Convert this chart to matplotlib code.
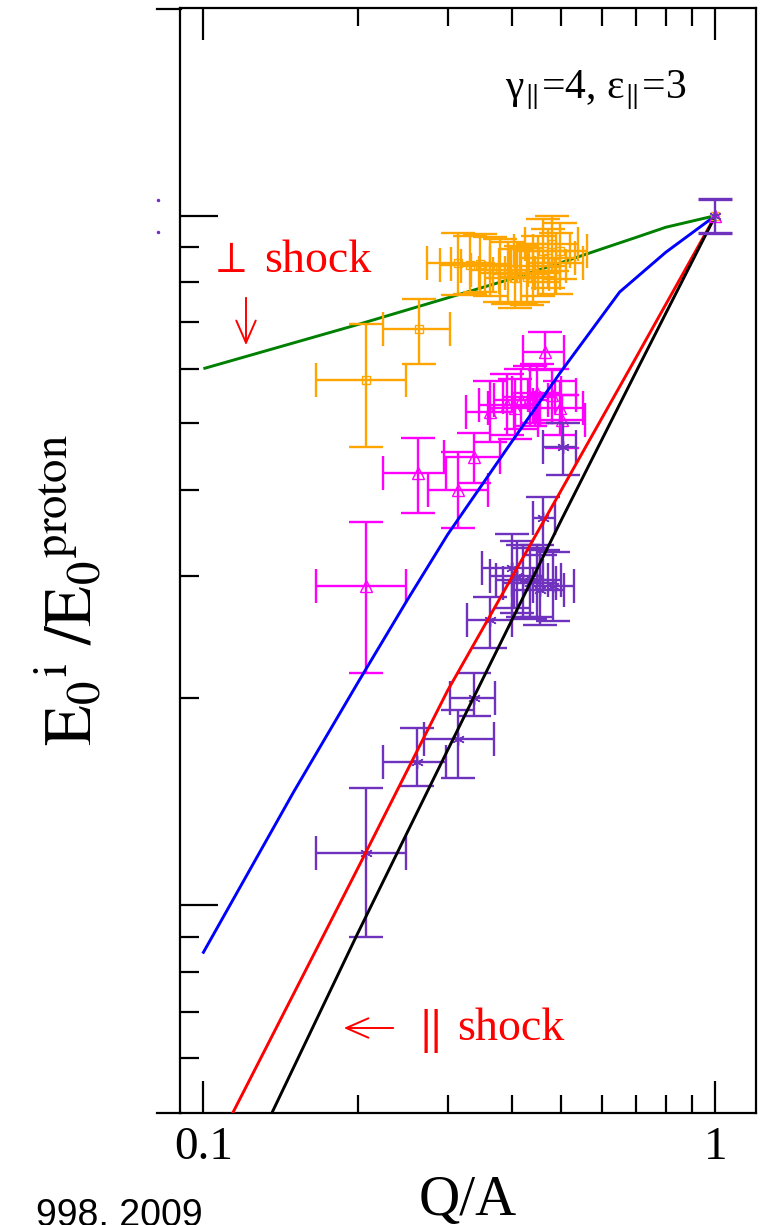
import matplotlib
matplotlib.use('Agg')
import matplotlib.pyplot as plt
from matplotlib.ticker import FixedLocator, NullFormatter, FixedFormatter
from matplotlib.lines import Line2D
import numpy as np

plt.rcParams['font.family'] = ['Liberation Serif', 'DejaVu Serif']
plt.rcParams['mathtext.fontset'] = 'stix'

W, H, DPI = 762, 1225, 100

# ---------------- model curves ----------------
green_q = [0.1, 0.2, 0.3, 0.4, 0.5, 0.6, 0.7, 0.8, 1.0]
green_y = [0.60, 0.695, 0.76, 0.81, 0.855, 0.895, 0.93, 0.962, 1.0]

blue_q = [0.1, 0.15, 0.2, 0.25, 0.3, 0.4, 0.5, 0.6, 0.65, 0.8, 1.0]
blue_y = [0.0855, 0.146, 0.21, 0.277, 0.345, 0.47, 0.595, 0.715, 0.775, 0.885, 1.0]

red_q = [0.1, 0.2, 0.3, 0.5, 0.7, 1.0]
red_y = [0.0413, 0.113, 0.205, 0.40, 0.623, 1.0]

black_q = [0.1, 0.2, 0.3, 0.5, 0.7, 1.0]
black_y = [0.031, 0.091, 0.168, 0.362, 0.594, 1.0]

# ---------------- orange (squares) ----------------
or_q   = [0.208, 0.264, 0.314, 0.331, 0.347, 0.362, 0.379, 0.393, 0.406, 0.417, 0.428, 0.440, 0.450, 0.460, 0.470, 0.479, 0.488, 0.497]
or_y   = [0.578, 0.684, 0.855, 0.849, 0.852, 0.844, 0.833, 0.827, 0.811, 0.824, 0.816, 0.827, 0.846, 0.890, 0.867, 0.911, 0.855, 0.890]
or_qlo = [0.166, 0.224, 0.273, 0.290, 0.305, 0.318, 0.333, 0.345, 0.355, 0.368, 0.378, 0.388, 0.398, 0.405, 0.415, 0.425, 0.432, 0.440]
or_qhi = [0.249, 0.303, 0.362, 0.378, 0.395, 0.410, 0.430, 0.445, 0.460, 0.472, 0.485, 0.498, 0.510, 0.520, 0.532, 0.540, 0.550, 0.560]
or_ylo = [0.462, 0.609, 0.766, 0.770, 0.775, 0.765, 0.750, 0.745, 0.735, 0.748, 0.742, 0.750, 0.765, 0.800, 0.785, 0.830, 0.770, 0.810]
or_yhi = [0.697, 0.758, 0.945, 0.935, 0.940, 0.930, 0.925, 0.915, 0.895, 0.905, 0.898, 0.910, 0.935, 0.990, 0.955, 1.000, 0.945, 0.975]

# ---------------- magenta (triangles) ----------------
mg_q   = [0.208, 0.263, 0.314, 0.337, 0.362, 0.391, 0.406, 0.418, 0.434, 0.448, 0.464, 0.479, 0.497, 0.501]
mg_y   = [0.290, 0.423, 0.400, 0.447, 0.520, 0.531, 0.527, 0.540, 0.545, 0.554, 0.634, 0.549, 0.526, 0.505]
mg_qlo = [0.166, 0.224, 0.275, 0.295, 0.325, 0.345, 0.360, 0.370, 0.385, 0.400, 0.420, 0.430, 0.445, 0.450]
mg_qhi = [0.249, 0.298, 0.360, 0.380, 0.405, 0.440, 0.455, 0.470, 0.485, 0.500, 0.505, 0.535, 0.550, 0.555]
mg_ylo = [0.217, 0.370, 0.352, 0.410, 0.470, 0.480, 0.475, 0.490, 0.495, 0.500, 0.597, 0.500, 0.480, 0.460]
mg_yhi = [0.360, 0.476, 0.455, 0.484, 0.575, 0.590, 0.580, 0.600, 0.605, 0.610, 0.677, 0.600, 0.575, 0.550]

# ---------------- purple (asterisks) ----------------
pu_q   = [0.208, 0.261, 0.314, 0.337, 0.362, 0.400, 0.410, 0.420, 0.434, 0.448, 0.454, 0.481, 0.460, 0.503]
pu_y   = [0.119, 0.1616, 0.174, 0.200, 0.259, 0.308, 0.300, 0.296, 0.293, 0.296, 0.287, 0.290, 0.364, 0.462]
pu_qlo = [0.166, 0.224, 0.270, 0.303, 0.327, 0.350, 0.362, 0.372, 0.385, 0.400, 0.405, 0.440, 0.440, 0.460]
pu_qhi = [0.249, 0.298, 0.370, 0.371, 0.400, 0.455, 0.460, 0.470, 0.488, 0.500, 0.505, 0.530, 0.486, 0.535]
pu_ylo = [0.090, 0.149, 0.153, 0.188, 0.236, 0.270, 0.265, 0.262, 0.260, 0.262, 0.255, 0.258, 0.327, 0.420]
pu_yhi = [0.148, 0.181, 0.192, 0.217, 0.280, 0.345, 0.338, 0.333, 0.330, 0.333, 0.322, 0.325, 0.391, 0.500]

# reference point at Q/A = 1
ref_q = [1.0]
ref_y = [1.0]
ref_ylo = [0.945]
ref_yhi = [1.058]

x_major = [0.1, 1.0]
x_major_labels = ['0.1', '1']
x_minor = [0.2, 0.3, 0.4, 0.5, 0.6, 0.7, 0.8, 0.9]
y_major = [0.1, 1.0]
y_minor = [0.06, 0.07, 0.08, 0.09, 0.2, 0.3, 0.4, 0.5, 0.6, 0.7, 0.8, 0.9]

C_OR = '#FFA500'
C_MG = '#FF00FF'
C_PU = '#6E32BE'
C_GR = '#008000'

fig = plt.figure(figsize=(W / DPI, H / DPI), dpi=DPI)
fig.patch.set_facecolor('white')
ax = fig.add_axes([180 / W, 1 - 1113 / H, 576 / W, 1105 / H])
ax.set_xscale('log')
ax.set_yscale('log')
ax.set_xlim(0.09, 1.2)
ax.set_ylim(0.05, 2.0)

lw = 2.1
ax.plot(green_q, green_y, color=C_GR, lw=lw, zorder=1.5, solid_capstyle='butt')


def eb(q, y, qlo, qhi, ylo, yhi, color, marker, ms, z):
    q = np.asarray(q); y = np.asarray(y)
    xe = [q - np.asarray(qlo), np.asarray(qhi) - q]
    ye = [y - np.asarray(ylo), np.asarray(yhi) - y]
    ax.errorbar(q, y, xerr=xe, yerr=ye, fmt='none', ecolor=color,
                elinewidth=1.7, capsize=12.5, capthick=1.7, zorder=z)
    ax.plot(q, y, ls='none', marker=marker, ms=ms, mfc='none', mec=color,
            mew=1.0, zorder=z + 0.05)


eb(or_q, or_y, or_qlo, or_qhi, or_ylo, or_yhi, C_OR, 's', 6, 2)
eb(mg_q, mg_y, mg_qlo, mg_qhi, mg_ylo, mg_yhi, C_MG, '^', 8, 2.1)
eb(pu_q, pu_y, pu_qlo, pu_qhi, pu_ylo, pu_yhi, C_PU, (6, 2, 0), 9, 2.2)

ax.plot(blue_q, blue_y, color='blue', lw=lw, zorder=3)
ax.plot(red_q, red_y, color='red', lw=lw, zorder=3)
ax.plot(black_q, black_y, color='black', lw=lw, zorder=3)

ax.plot(ref_q, ref_y, ls='none', marker='s', ms=6, mfc='none', mec=C_OR, zorder=4)
ax.plot(ref_q, ref_y, ls='none', marker='^', ms=8, mfc='none', mec=C_MG, zorder=4)
r = np.asarray(ref_y)
ax.errorbar(ref_q, ref_y, yerr=[r - np.asarray(ref_ylo), np.asarray(ref_yhi) - r],
            fmt='none', ecolor=C_PU, elinewidth=1.7, capsize=12.5, capthick=2.4, zorder=4.1)
ax.plot(ref_q, ref_y, ls='none', marker=(6, 2, 0), ms=9, mec=C_PU, zorder=4.2)

# ticks
ax.xaxis.set_major_locator(FixedLocator(x_major))
ax.xaxis.set_minor_locator(FixedLocator(x_minor))
ax.xaxis.set_major_formatter(FixedFormatter(x_major_labels))
ax.xaxis.set_minor_formatter(NullFormatter())
ax.yaxis.set_major_locator(FixedLocator(y_major))
ax.yaxis.set_minor_locator(FixedLocator(y_minor))
ax.yaxis.set_major_formatter(NullFormatter())
ax.yaxis.set_minor_formatter(NullFormatter())
ax.tick_params(which='both', direction='in', top=True, right=False, width=1.6,
               color='black')
ax.tick_params(axis='x', which='major', length=23, labelsize=34, pad=10)
ax.tick_params(axis='x', which='minor', length=13)
ax.tick_params(axis='y', which='major', length=27)
ax.tick_params(axis='y', which='minor', length=14)
for s in ax.spines.values():
    s.set_linewidth(1.6)

ax.set_xlabel('Q/A', fontsize=41, labelpad=4)

# frame line extensions to the left (top & bottom)
for py in (8.5, 1113):
    fig.add_artist(Line2D([157 / W, 181 / W], [1 - py / H, 1 - py / H],
                          color='black', lw=1.6))
# tiny purple specks at the left edge
for py in (200, 232):
    fig.add_artist(Line2D([158 / W], [1 - py / H], marker='o', ms=1.5,
                          color=C_PU, ls='none'))

# y label
fig.text(70 / W, 1 - 590 / H,
         r'$\mathrm{E}_0{}^{\mathrm{i}}\ /\mathrm{E}_0{}^{\mathrm{proton}}$',
         rotation=90, ha='center', va='center', fontsize=48)

# annotations
fig.text(505 / W, 1 - 98 / H, r'γ${}_{\Vert}$=4, ε${}_{\Vert}$=3',
         fontsize=30, ha='left', va='baseline')
fig.text(209 / W, 1 - 272 / H, r'$\perp$', color='red', fontsize=32,
         ha='left', va='baseline')
fig.text(264 / W, 1 - 272 / H, 'shock', color='red', fontsize=33,
         ha='left', va='baseline')
fig.text(417 / W, 1 - 1043 / H, r'$\Vert$', color='red', fontsize=36,
         ha='left', va='baseline')
fig.text(457 / W, 1 - 1040 / H, 'shock', color='red', fontsize=33,
         ha='left', va='baseline')

fig.add_artist(matplotlib.patches.FancyArrowPatch(
    (246 / W, 1 - 295 / H), (246 / W, 1 - 348 / H),
    transform=fig.transFigure, arrowstyle='->,head_length=0.8,head_width=0.35',
    mutation_scale=20, color='red', lw=1.4))
fig.add_artist(matplotlib.patches.FancyArrowPatch(
    (396 / W, 1 - 1028 / H), (341 / W, 1 - 1028 / H),
    transform=fig.transFigure, arrowstyle='->,head_length=0.8,head_width=0.35',
    mutation_scale=20, color='red', lw=1.4))

# cropped caption at the bottom-left (cut by the figure edge, as in the reference)
fig.text(203 / W, 1 - 1226 / H, '998, 2009', fontsize=27,
         family=['Liberation Sans', 'DejaVu Sans'], ha='right', va='baseline')

fig.savefig('out.png', dpi=DPI)
